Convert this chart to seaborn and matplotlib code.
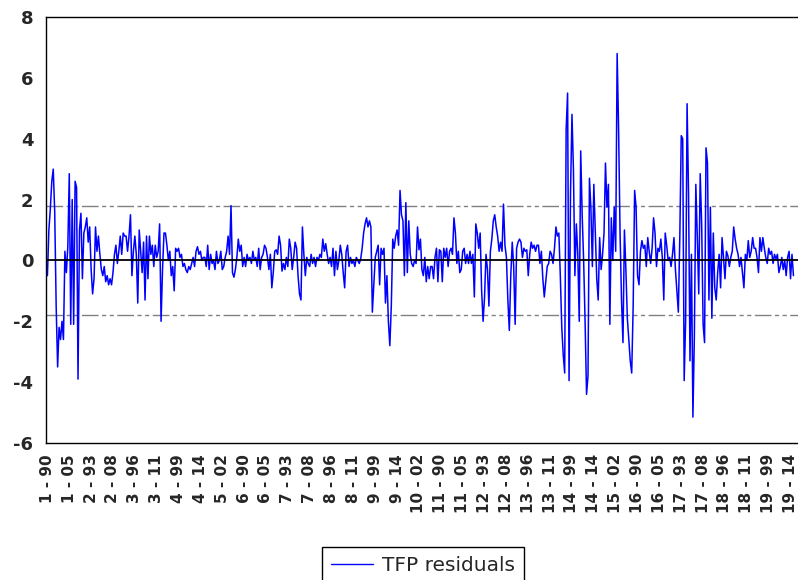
import numpy as np
import pandas as pd
import matplotlib
matplotlib.use("Agg")
import matplotlib.pyplot as plt
from matplotlib.ticker import MultipleLocator
import seaborn as sns

# panel residuals, 27 years (1990-2016) per cross-section
years = list(range(1990, 2017))

resid_01 = [-0.5, 1.0, 1.7, 2.6, 3.0, 1.6, -1.5, -3.5, -2.2, -2.6, -2.0, -2.6, 0.3, -0.4,
            0.45, 2.85, -2.1, 2.0, -2.1, 2.6, 2.4, -3.9, 1.0, 1.55, -0.6, 0.9, 1.1]
resid_02 = [1.4, 0.6, 1.1, -0.3, -1.1, -0.6, 1.1, 0.3, 0.8, 0.2, -0.3, -0.5, -0.2, -0.7,
            -0.5, -0.8, -0.6, -0.8, -0.4, 0.2, 0.5, -0.1, 0.3, 0.8, 0.2, 0.9, 0.8]
resid_03 = [0.8, 0.3, 0.8, 1.5, -0.5, 0.3, 0.8, 0.2, -1.4, 1.0, 0.3, -0.4, 0.6, -1.3,
            0.8, -0.6, 0.8, 0.2, 0.5, -0.2, 0.5, 0.1, 0.3, 1.2, -2.0, -0.3, 0.9]
resid_04 = [0.9, 0.5, 0.0, 0.3, -0.5, -0.2, -1.0, 0.4, 0.3, 0.4, 0.1, 0.2, -0.2, -0.1,
            -0.3, -0.4, -0.2, -0.3, -0.1, 0.1, -0.2, 0.3, 0.45, 0.2, 0.3, 0.0, 0.1]
resid_05 = [0.1, -0.2, 0.5, -0.3, 0.2, -0.1, 0.0, -0.3, 0.3, -0.1, 0.0, 0.3, -0.3, -0.2,
            0.1, 0.3, 0.8, 0.2, 1.8, -0.4, -0.55, -0.3, 0.1, 0.7, 0.3, 0.5, -0.2]
resid_06 = [0.1, -0.2, 0.2, 0.0, 0.1, -0.1, 0.3, 0.0, 0.1, -0.2, 0.4, -0.3, 0.1, 0.2,
            0.5, 0.4, 0.1, -0.3, 0.2, -0.9, -0.4, 0.3, 0.35, 0.2, 0.8, 0.5, -0.35]
resid_07 = [-0.1, -0.3, 0.1, -0.2, 0.7, 0.4, -0.3, 0.1, 0.6, 0.4, -0.5, -1.1, -1.3, 1.1,
            0.2, -0.5, 0.1, -0.1, -0.2, 0.2, -0.1, 0.1, -0.2, 0.1, 0.0, 0.2, 0.1]
resid_08 = [0.7, 0.3, 0.55, 0.2, -0.1, 0.1, -0.2, 0.4, -0.5, 0.3, -0.3, 0.0, 0.5, 0.2,
            -0.4, -0.9, 0.3, 0.5, -0.2, 0.1, -0.1, 0.0, -0.2, 0.1, 0.0, -0.1, 0.05]
resid_09 = [0.4, 0.9, 1.2, 1.4, 1.1, 1.3, 1.1, -1.7, -0.8, 0.1, 0.3, 0.5, -0.8, 0.4,
            0.2, 0.4, -1.4, -0.5, -2.0, -2.8, -1.5, 0.7, 0.4, 0.8, 1.0, 0.5, 2.3]
resid_10 = [1.5, 1.3, -0.5, 1.9, -0.4, 1.3, 0.2, -0.1, -0.2, 0.0, -0.1, 1.1, 0.35, 0.7,
            -0.3, -0.5, 0.1, -0.7, -0.2, -0.6, -0.2, -0.2, -0.6, 0.1, 0.4, -0.7, 0.35]
resid_11 = [0.3, -0.7, 0.4, 0.1, 0.4, -0.2, 0.3, 0.4, 0.2, 1.4, 0.9, -0.1, 0.3, -0.4,
            -0.3, 0.3, 0.4, -0.1, 0.2, -0.1, 0.3, -0.1, 0.2, -1.2, 1.2, 0.9, 0.4]
resid_12 = [0.9, -1.0, -2.0, -1.2, 0.2, -0.3, -1.5, 0.3, 0.7, 1.3, 1.5, 1.1, 0.8, 0.3,
            0.6, 0.3, 1.85, 0.5, 0.1, -1.3, -2.3, -0.5, 0.6, -0.2, -2.1, 0.4, 0.6]
resid_13 = [0.7, 0.6, 0.1, 0.4, 0.3, 0.35, -0.5, 0.2, 0.6, 0.4, 0.5, 0.3, 0.5, 0.5,
            -0.1, 0.3, -0.6, -1.2, -0.7, -0.2, -0.1, 0.3, 0.2, -0.1, 0.4, 1.1, 0.8]
resid_14 = [0.9, -0.5, -2.2, -3.1, -3.7, 4.3, 5.5, -3.95, 2.2, 4.8, 3.0, -0.5, 1.2, 0.2,
            -2.0, 3.6, 1.5, 0.0, -2.0, -4.4, -3.8, 2.7, 1.7, -0.2, 2.5, 0.9, -0.6]
resid_15 = [-1.3, 0.75, -0.3, 0.2, 0.9, 3.2, 1.75, 2.5, -2.1, 1.4, 0.0, 1.75, 0.3, 6.8,
            4.3, 0.9, -1.3, -2.7, 1.0, -0.3, -1.9, -2.6, -3.3, -3.7, -1.5, 2.3, 1.75]
resid_16 = [-0.5, -0.8, 0.3, 0.65, 0.4, 0.5, -0.2, 0.75, 0.3, -0.1, 0.4, 1.4, 0.9, -0.2,
            0.4, 0.3, 0.7, 0.1, -1.3, 0.9, 0.5, 0.0, 0.1, -0.2, 0.2, 0.75, -0.3]
resid_17 = [-1.0, -1.7, 0.75, 4.1, 4.0, -3.95, -2.0, 5.15, 2.2, -3.3, 0.2, -5.15, -2.5, 2.5,
            0.8, -1.1, 2.85, 1.2, -2.1, -2.7, 3.7, 3.2, -1.3, 1.75, -1.9, 0.9, -0.9]
resid_18 = [-1.3, -0.4, 0.2, -0.9, 0.75, 0.1, -0.6, 0.3, 0.15, -0.2, 0.1, 0.3, 1.1, 0.7,
            0.4, 0.2, -0.2, 0.1, -0.4, -0.9, 0.2, 0.0, 0.65, 0.1, 0.3, 0.75, 0.4]
resid_19 = [0.4, 0.1, -0.4, 0.75, 0.3, 0.75, 0.4, 0.1, -0.1, 0.4, 0.2, 0.3, -0.1, 0.2,
            0.05, 0.2, -0.4, -0.2, 0.1, -0.3, 0.0, -0.5, 0.1, 0.3, -0.6, 0.2, -0.5]

panels = [resid_01, resid_02, resid_03, resid_04, resid_05, resid_06, resid_07,
          resid_08, resid_09, resid_10, resid_11, resid_12, resid_13, resid_14,
          resid_15, resid_16, resid_17, resid_18, resid_19]

band = 1.78  # dashed +/- band

rows = []
for p, vals in enumerate(panels, start=1):
    for yr, v in zip(years, vals):
        rows.append({"panel": p, "year": yr, "resid": v})
df = pd.DataFrame(rows)
df["obs"] = np.arange(len(df))

sns.set_style("white")
plt.rcParams["font.family"] = ["Liberation Sans", "DejaVu Sans"]
plt.rcParams["axes.unicode_minus"] = False

fig = plt.figure(figsize=(7.98, 5.80), dpi=100)
ax = fig.add_axes([0.0576, 0.2362, 0.944, 0.7345])

sns.lineplot(data=df, x="obs", y="resid", color="#0000FF", linewidth=1.1,
             ax=ax, legend=False, zorder=2)

ax.axhline(0, color="black", linewidth=1.3, zorder=3)
for yv in (band, -band):
    ax.axhline(yv, color="#808080", linewidth=1.0, zorder=1,
               linestyle=(0, (12, 2.5, 3, 2.5, 3, 2.5)))

ax.set_xlim(-1, 516)
ax.set_ylim(-6, 8)
ax.set_yticks(range(-6, 9, 2))
ax.tick_params(axis="y", labelsize=13, length=5, width=1, direction="out", pad=4)
for lab in ax.get_yticklabels():
    lab.set_fontweight("bold")
    lab.set_family(["DejaVu Sans"])

tick_obs = df["obs"][::15]
tick_labels = [f"{p} - {y % 100:02d}" for p, y in zip(df["panel"][::15], df["year"][::15])]
ax.set_xticks(tick_obs)
ax.set_xticklabels(tick_labels, rotation=90, fontsize=11, fontweight="bold",
                   family=["DejaVu Sans"])
ax.xaxis.set_minor_locator(MultipleLocator(5))
ax.tick_params(axis="x", which="both", length=5, width=1, direction="out", pad=3)
ax.set_xlabel("")
ax.set_ylabel("")

for side in ("left", "top", "bottom"):
    ax.spines[side].set_color("black")
    ax.spines[side].set_linewidth(1.0)
ax.spines["right"].set_visible(False)

handle = plt.Line2D([], [], color="#0000FF", linewidth=1.0)
fig.legend([handle], ["TFP residuals"], loc="upper center",
           bbox_to_anchor=(0.530, 0.057), frameon=True, fancybox=False,
           edgecolor="black", framealpha=1, handlelength=2.1, handletextpad=0.45,
           borderpad=0.45, borderaxespad=0,
           prop={"family": ["DejaVu Sans"], "size": 14.5})

fig.savefig("out.png", dpi=100)
